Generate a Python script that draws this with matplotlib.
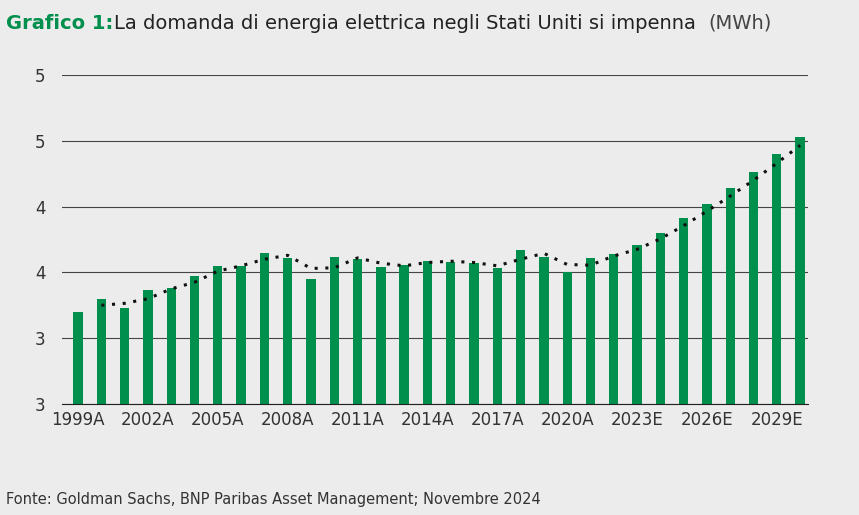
import matplotlib.pyplot as plt

years = list(range(1999, 2031))
values = [3.70, 3.80, 3.73, 3.87, 3.88, 3.97, 4.05, 4.05, 4.15, 4.11, 3.95, 4.12,
          4.10, 4.04, 4.06, 4.09, 4.08, 4.07, 4.03, 4.17, 4.12, 4.00, 4.11, 4.14,
          4.21, 4.30, 4.41, 4.52, 4.64, 4.76, 4.90, 5.03]
trend_years = list(range(2000, 2031))
trend = [3.75, 3.765, 3.80, 3.875, 3.925, 4.01, 4.05, 4.10, 4.13, 4.03, 4.035,
         4.11, 4.07, 4.05, 4.075, 4.085, 4.075, 4.05, 4.10, 4.145, 4.06, 4.055,
         4.125, 4.175, 4.255, 4.355, 4.465, 4.58, 4.70, 4.83, 4.965]
tick_years = list(range(1999, 2031, 3))
tick_labels = [f"{y}{'A' if y <= 2022 else 'E'}" for y in tick_years]
y_ticks = [3.0, 3.5, 4.0, 4.5, 5.0, 5.5]
y_labels = ['3', '3', '4', '4', '5', '5']

bg = '#ececec'
green = '#008f4c'
fig = plt.figure(figsize=(8.59, 5.15), dpi=100, facecolor=bg)
ax = fig.add_axes([62 / 859, 1 - 404 / 515, (808 - 62) / 859, (404 - 75) / 515], facecolor=bg)

ax.bar(years, [v - 3 for v in values], bottom=3, width=0.4, color=green, zorder=2)
ax.plot(trend_years, trend, linestyle=(0, (1, 2.5)), color='#111111', linewidth=2.2, zorder=3)

ax.set_ylim(3, 5.5)
ax.set_xlim(1998.31, 2030.34)
ax.set_yticks(y_ticks)
ax.set_yticklabels(y_labels)
ax.set_xticks(tick_years)
ax.set_xticklabels(tick_labels)
ax.grid(axis='y', color='#444444', linewidth=0.8, zorder=0)
for s in ['top', 'right', 'left']:
    ax.spines[s].set_visible(False)
ax.spines['bottom'].set_color('#222222')
ax.tick_params(axis='both', length=0, labelsize=12, colors='#333333')
ax.tick_params(axis='y', pad=12)
ax.tick_params(axis='x', pad=5)

fig.text(0.007, 0.955, 'Grafico 1:', color=green, fontsize=14, fontweight='bold', va='center')
fig.text(0.133, 0.955, 'La domanda di energia elettrica negli Stati Uniti si impenna', color='#222222',
         fontsize=14, va='center')
fig.text(0.825, 0.955, '(MWh)', color='#444444', fontsize=14, va='center')
fig.text(0.007, 0.03, 'Fonte: Goldman Sachs, BNP Paribas Asset Management; Novembre 2024',
         color='#333333', fontsize=10.5, va='center')

fig.savefig('out.png', dpi=100, facecolor=bg)
